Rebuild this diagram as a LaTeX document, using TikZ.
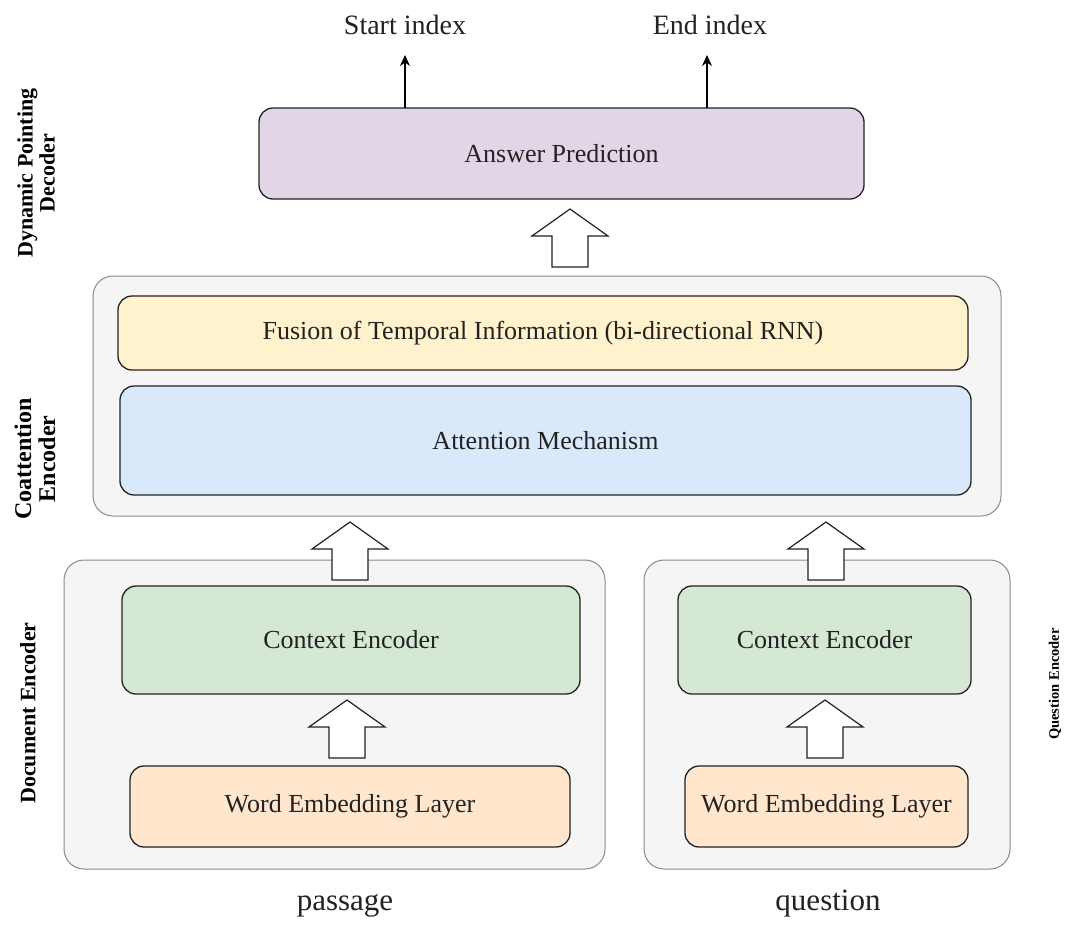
\documentclass[tikz,border=0pt]{standalone}
\usepackage{fontspec}
\setmainfont{Liberation Serif}
\usetikzlibrary{arrows.meta,calc}
\definecolor{purpleF}{HTML}{E1D5E7}
\definecolor{yellowF}{HTML}{FFF2CC}
\definecolor{blueF}{HTML}{DAE8FC}
\definecolor{greenF}{HTML}{D5E8D4}
\definecolor{orangeF}{HTML}{FFE6CC}
\definecolor{grayF}{HTML}{F5F5F5}
\definecolor{grayD}{HTML}{8A8A8A}
\definecolor{inkD}{HTML}{222222}
\newcommand\fs[1]{\fontsize{#1}{#1}\selectfont}
% hollow block arrow: base centre (x,y), pointing up
\newcommand\blockup[2]{%
  \draw[blockarrow] (#1,#2) ++(-18,0) -- ++(0,-31) -- ++(-20,0) -- ++(38,-27)
     -- ++(38,27) -- ++(-20,0) -- ++(0,31) -- cycle;}
\begin{document}
\begin{tikzpicture}[x=1pt,y=-1pt,
  layer/.style={draw=inkD, line width=1.3pt, rounded corners=14pt,
    inner sep=0pt, outer sep=0pt, text=inkD, font=\fs{26}},
  group/.style={draw=grayD, line width=1pt, fill=grayF, rounded corners=20pt,
    inner sep=0pt, outer sep=0pt},
  blockarrow/.style={draw=inkD, line width=1.2pt, fill=white, line join=miter},
  sidelabel/.style={rotate=90, align=center, font=\bfseries\fs{22}, text=black},
  outlabel/.style={text=inkD},
  thin/.style={draw=black, line width=1.2pt, -{Stealth[length=11pt,width=10pt]}}]
\useasboundingbox (0,0) rectangle (1073,927);
\fill[white] (0,0) rectangle (1073,927);

% decoder
\node[layer, fill=purpleF, minimum width=605pt, minimum height=91pt] (ap) at (561.5,153.5) {Answer Prediction};

% coattention encoder
\node[group, minimum width=908pt, minimum height=240pt] (coatt) at (547,396) {};
\node[layer, fill=yellowF, minimum width=850pt, minimum height=74pt] (fusion) at (543,333) {Fusion of Temporal Information (bi-directional RNN)};
\node[layer, fill=blueF, minimum width=851pt, minimum height=109pt] (attn) at (545.5,440.5) {Attention Mechanism};

% document encoder
\node[group, minimum width=541pt, minimum height=309pt] (docenc) at (334.5,714.5) {};
\node[layer, fill=greenF, minimum width=458pt, minimum height=108pt] (ctxd) at (351,640) {Context Encoder};
\node[layer, fill=orangeF, minimum width=440pt, minimum height=81pt] (wed) at (350,806.5) {Word Embedding Layer};

% question encoder
\node[group, minimum width=366pt, minimum height=309pt] (qenc) at (827,714.5) {};
\node[layer, fill=greenF, minimum width=293pt, minimum height=108pt] (ctxq) at (824.5,640) {Context Encoder};
\node[layer, fill=orangeF, minimum width=283pt, minimum height=81pt] (weq) at (826.5,806.5) {Word Embedding Layer};

% block arrows between stages
\blockup{570}{267}
\blockup{350}{580}
\blockup{826}{580}
\blockup{347}{758}
\blockup{825}{758}

% outputs
\node[outlabel, font=\fs{28}] (start) at (405,25) {Start index};
\node[outlabel, font=\fs{28}] (end) at (710,25) {End index};
\coordinate (sa) at (405,55);
\coordinate (ea) at (707,55);
\draw[thin] (ap.north -| sa) -- (sa);
\draw[thin] (ap.north -| ea) -- (ea);

% inputs
\node[outlabel, font=\fs{31}] (passage) at (345,906) {passage};
\node[outlabel, font=\fs{31}] (question) at (828,904) {question};

% stage labels
\node[sidelabel] (ldec) at (36,173) {Dynamic Pointing\\Decoder};
\node[sidelabel, font=\bfseries\fs{24}] (lco) at (35,459) {Coattention\\Encoder};
\node[sidelabel] (ldoc) at (28,713) {Document Encoder};
\node[sidelabel, font=\bfseries\fs{14.5}] (lq) at (1055,684) {Question Encoder};
\end{tikzpicture}
\end{document}
